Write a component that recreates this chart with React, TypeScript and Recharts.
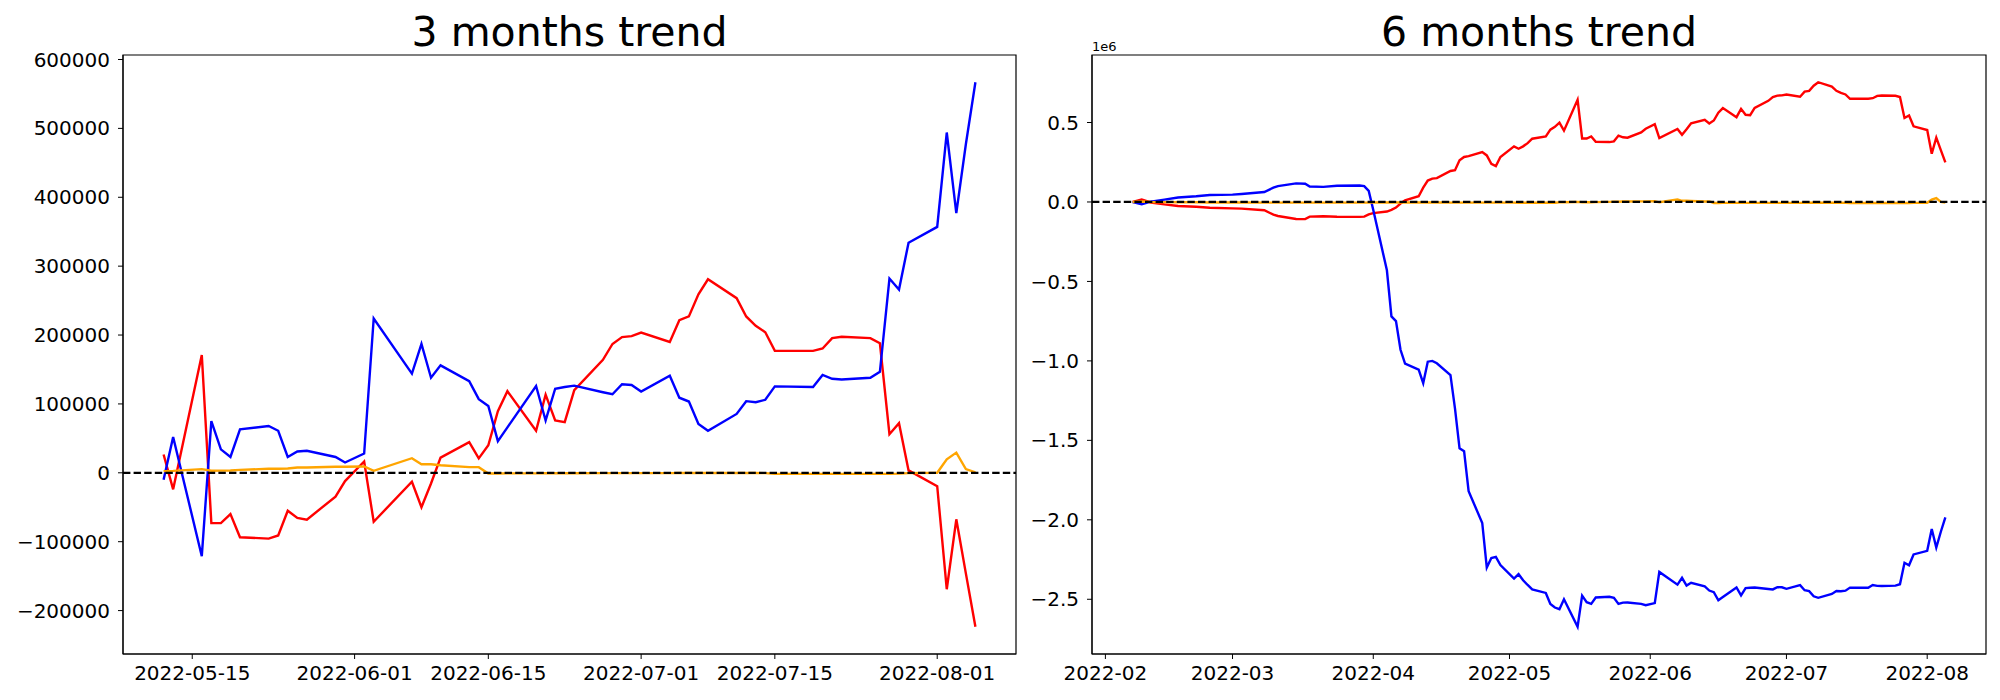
import React from 'react';
import { LineChart, Line, XAxis, YAxis, ReferenceLine, ReferenceArea } from 'recharts';

const FONT = 'DejaVu Sans';

// ---- 3 months trend (cumulative since 2022-05-11) ----
const threeDates = [
  '2022-05-12', '2022-05-13', '2022-05-16', '2022-05-17', '2022-05-18', '2022-05-19', '2022-05-20',
  '2022-05-23', '2022-05-24', '2022-05-25', '2022-05-26', '2022-05-27', '2022-05-30', '2022-05-31',
  '2022-06-02', '2022-06-03', '2022-06-07', '2022-06-08', '2022-06-09', '2022-06-10', '2022-06-13',
  '2022-06-14', '2022-06-15', '2022-06-16', '2022-06-17', '2022-06-20', '2022-06-21', '2022-06-22',
  '2022-06-23', '2022-06-24', '2022-06-27', '2022-06-28', '2022-06-29', '2022-06-30', '2022-07-01',
  '2022-07-04', '2022-07-05', '2022-07-06', '2022-07-07', '2022-07-08', '2022-07-11', '2022-07-12',
  '2022-07-13', '2022-07-14', '2022-07-15', '2022-07-19', '2022-07-20', '2022-07-21', '2022-07-22',
  '2022-07-25', '2022-07-26', '2022-07-27', '2022-07-28', '2022-07-29', '2022-08-01', '2022-08-02',
  '2022-08-03', '2022-08-04', '2022-08-05',
];
const threeBlue = [
  -10000, 52000, -121000, 75000, 34000, 23000, 63000, 68000, 61000, 23000, 31000, 32000, 23000, 15000,
  28000, 224000, 144000, 187000, 138000, 156000, 133000, 107000, 97000, 46000, 66000, 126000, 76000,
  122000, 124500, 126500, 117000, 114000, 128500, 127500, 118000, 141000, 109000, 103500, 71000, 61000,
  85500, 104000, 102500, 106000, 125500, 124500, 142000, 136500, 135500, 138000, 146500, 282000, 266000,
  334000, 357000, 494000, 377000, 477000, 567000,
];
const threeRed = [
  26500, -24000, 171000, -73000, -73000, -60000, -93500, -95500, -91000, -55000, -65500, -68000, -34500,
  -12000, 16500, -71000, -13000, -50000, -15500, 22000, 44500, 21000, 40000, 89500, 118500, 61000, 113500,
  76000, 73500, 120000, 164000, 187000, 197000, 198500, 203500, 190000, 221500, 227000, 259000, 281000,
  253500, 227000, 213500, 204000, 177000, 177000, 180500, 195500, 197500, 195500, 188000, 56000, 72000,
  3500, -19500, -169000, -67500, -146000, -223500,
];
const threeOrange = [
  2500, 2800, 5300, 3000, 3200, 3400, 4300, 5800, 6000, 6300, 7700, 7800, 8700, 8800, 9200, 2900, 21200,
  12500, 12500, 11000, 8200, 8200, -1000, -1000, -800, -800, -700, -700, -600, -600, -500, -500, -500,
  -400, -400, -400, -300, -300, -300, -200, -200, -200, -300, -500, -1500, -1500, -1500, -1500, -1500,
  -1600, -1600, -1500, -1200, -500, 0, 19500, 29300, 5500, 500,
];
const threeXTicks = ['2022-05-15', '2022-06-01', '2022-06-15', '2022-07-01', '2022-07-15', '2022-08-01'];
const threeYTicks = [-200000, -100000, 0, 100000, 200000, 300000, 400000, 500000, 600000];

// ---- 6 months trend (values in 1e6) ----
const sixDates = [
  '2022-02-07', '2022-02-09', '2022-02-11', '2022-02-14', '2022-02-17', '2022-02-21', '2022-02-24',
  '2022-03-01', '2022-03-03', '2022-03-08', '2022-03-10', '2022-03-11', '2022-03-15', '2022-03-17',
  '2022-03-18', '2022-03-21', '2022-03-24', '2022-03-29', '2022-03-30', '2022-03-31', '2022-04-01',
  '2022-04-04', '2022-04-05', '2022-04-06', '2022-04-07', '2022-04-08', '2022-04-11', '2022-04-12',
  '2022-04-13', '2022-04-14', '2022-04-15', '2022-04-18', '2022-04-19', '2022-04-20', '2022-04-21',
  '2022-04-22', '2022-04-25', '2022-04-26', '2022-04-27', '2022-04-28', '2022-04-29', '2022-05-02',
  '2022-05-03', '2022-05-04', '2022-05-05', '2022-05-06', '2022-05-09', '2022-05-10', '2022-05-11',
  ...threeDates,
];
const sixBlue = [
  0, -0.015, 0.002, 0.015, 0.028, 0.036, 0.044, 0.046, 0.05, 0.063, 0.09, 0.1, 0.117, 0.115, 0.097,
  0.095, 0.102, 0.104, 0.1, 0.07, -0.05, -0.43, -0.72, -0.75, -0.93, -1.017, -1.055, -1.14, -1.005, -1.0,
  -1.015, -1.09, -1.3, -1.55, -1.568, -1.82, -2.02, -2.3, -2.24, -2.233, -2.285, -2.37, -2.342, -2.38,
  -2.41, -2.438, -2.46, -2.53, -2.552,
  -2.562, -2.5, -2.673, -2.477, -2.518, -2.529, -2.489, -2.484, -2.491, -2.529, -2.521, -2.52, -2.529,
  -2.537, -2.524, -2.328, -2.408, -2.365, -2.414, -2.396, -2.419, -2.445, -2.455, -2.506, -2.486, -2.426,
  -2.476, -2.43, -2.4275, -2.4255, -2.435, -2.438, -2.4235, -2.4245, -2.434, -2.411, -2.443, -2.4485,
  -2.481, -2.491, -2.4665, -2.448, -2.4495, -2.446, -2.4265, -2.4275, -2.41, -2.4155, -2.4165, -2.414,
  -2.4055, -2.27, -2.286, -2.218, -2.195, -2.058, -2.175, -2.075, -1.985,
];
const sixRed = [
  0, 0.015, -0.003, -0.015, -0.025, -0.03, -0.036, -0.04, -0.042, -0.052, -0.08, -0.088, -0.107, -0.108,
  -0.092, -0.09, -0.093, -0.094, -0.092, -0.078, -0.07, -0.06, -0.05, -0.035, -0.01, 0.01, 0.036, 0.09,
  0.135, 0.147, 0.15, 0.195, 0.2, 0.262, 0.283, 0.288, 0.314, 0.293, 0.24, 0.226, 0.283, 0.35, 0.335,
  0.35, 0.37, 0.398, 0.412, 0.455, 0.4725,
  0.499, 0.4485, 0.6435, 0.3995, 0.3995, 0.4125, 0.379, 0.377, 0.3815, 0.4175, 0.407, 0.4045, 0.438,
  0.4605, 0.489, 0.4015, 0.4595, 0.4225, 0.457, 0.4945, 0.517, 0.4935, 0.5125, 0.562, 0.591, 0.5335,
  0.586, 0.5485, 0.546, 0.5925, 0.6365, 0.6595, 0.6695, 0.671, 0.676, 0.6625, 0.694, 0.6995, 0.7315,
  0.7535, 0.726, 0.6995, 0.686, 0.6765, 0.6495, 0.6495, 0.653, 0.668, 0.67, 0.668, 0.6605, 0.5285,
  0.5445, 0.476, 0.453, 0.3035, 0.405, 0.3265, 0.249,
];
const sixOrange = [
  0, 0.003, 0, -0.001, -0.002, -0.002, -0.003, -0.003, -0.003, -0.004, -0.004, -0.004, -0.004, -0.004,
  -0.004, -0.004, -0.004, -0.004, -0.004, -0.004, -0.003, -0.003, -0.003, -0.003, -0.003, -0.003, -0.003,
  -0.003, -0.003, -0.003, -0.003, -0.004, -0.004, -0.004, -0.004, -0.004, -0.004, -0.004, -0.004, -0.004,
  -0.004, -0.004, -0.005, -0.005, -0.005, -0.005, -0.005, -0.005, -0.005,
  -0.0025, -0.0022, 0.0003, -0.002, -0.0018, -0.0016, -0.0007, 0.0008, 0.001, 0.0013, 0.0027, 0.0028,
  0.0037, 0.0038, 0.0042, -0.0021, 0.0162, 0.0075, 0.0075, 0.006, 0.0032, 0.0032, -0.006, -0.006, -0.0058,
  -0.0058, -0.0057, -0.0057, -0.0056, -0.0056, -0.0055, -0.0055, -0.0055, -0.0054, -0.0054, -0.0054,
  -0.0053, -0.0053, -0.0053, -0.0052, -0.0052, -0.0052, -0.0053, -0.0055, -0.0065, -0.0065, -0.0065,
  -0.0065, -0.0065, -0.0066, -0.0066, -0.0065, -0.0062, -0.0055, -0.005, 0.0145, 0.0243, 0.0005, -0.0045,
];
const sixXTicks = ['2022-02-01', '2022-03-01', '2022-04-01', '2022-05-01', '2022-06-01', '2022-07-01', '2022-08-01'];
const sixYTicks = [-2.5, -2, -1.5, -1, -0.5, 0, 0.5];

const ts = (s: string) => Date.parse(s + 'T00:00:00Z');
const minus = (s: string) => s.replace('-', '\u2212');

// matplotlib style 5% margins
function padded(lo: number, hi: number): [number, number] {
  const p = (hi - lo) * 0.05;
  return [lo - p, hi + p];
}

type PanelProps = {
  dates: string[];
  blue: number[];
  red: number[];
  orange: number[];
  xTicks: string[];
  xFmt: (v: number) => string;
  yTicks: number[];
  yFmt: (v: number) => string;
  width: number;
  yWidth: number;
  right: number;
};

function Panel({ dates, blue, red, orange, xTicks, xFmt, yTicks, yFmt, width, yWidth, right }: PanelProps) {
  const rows = dates.map((d, i) => ({ t: ts(d), blue: blue[i], red: red[i], orange: orange[i] }));
  const [x0, x1] = padded(rows[0].t, rows[rows.length - 1].t);
  const all = [...blue, ...red, ...orange];
  const [y0, y1] = padded(Math.min(...all), Math.max(...all));
  const tickStyle = { fontSize: 20, fill: '#000', fontFamily: FONT };
  return (
    <LineChart width={width} height={700} data={rows} margin={{ top: 55, right, bottom: 0, left: 0 }}>
      <XAxis
        dataKey="t"
        type="number"
        domain={[x0, x1]}
        allowDataOverflow
        ticks={xTicks.map(ts)}
        tickFormatter={xFmt}
        height={46}
        stroke="#000"
        tickSize={5}
        tickMargin={7}
        tick={tickStyle}
      />
      <YAxis
        type="number"
        domain={[y0, y1]}
        allowDataOverflow
        ticks={yTicks}
        tickFormatter={yFmt}
        width={yWidth}
        stroke="#000"
        tickSize={5}
        tickMargin={8}
        tick={tickStyle}
      />
      <ReferenceArea x1={x0} x2={x1} y1={y0} y2={y1} fill="none" stroke="#000" strokeWidth={1.2} fillOpacity={0} />
      <Line dataKey="red" stroke="#ff0000" strokeWidth={2.4} dot={false} isAnimationActive={false} />
      <Line dataKey="blue" stroke="#0000ff" strokeWidth={2.4} dot={false} isAnimationActive={false} />
      <Line dataKey="orange" stroke="#ffa500" strokeWidth={2.4} dot={false} isAnimationActive={false} />
      <ReferenceLine y={0} stroke="#000" strokeWidth={2.2} strokeDasharray="7.4 3.2" />
    </LineChart>
  );
}

export default function App() {
  return (
    <div style={{ position: 'absolute', left: 0, top: 0, width: 2000, height: 700, background: '#fff', fontFamily: FONT }}>
      <div style={{ position: 'absolute', left: 0, top: 0 }}>
        <Panel
          dates={threeDates}
          blue={threeBlue}
          red={threeRed}
          orange={threeOrange}
          xTicks={threeXTicks}
          xFmt={(v) => new Date(v).toISOString().slice(0, 10)}
          yTicks={threeYTicks}
          yFmt={(v) => minus(String(v))}
          width={1020}
          yWidth={123}
          right={4}
        />
      </div>
      <div style={{ position: 'absolute', left: 1020, top: 0 }}>
        <Panel
          dates={sixDates}
          blue={sixBlue}
          red={sixRed}
          orange={sixOrange}
          xTicks={sixXTicks}
          xFmt={(v) => new Date(v).toISOString().slice(0, 7)}
          yTicks={sixYTicks}
          yFmt={(v) => minus(v.toFixed(1))}
          width={980}
          yWidth={72}
          right={14}
        />
      </div>
      <svg width={2000} height={700} style={{ position: 'absolute', left: 0, top: 0, pointerEvents: 'none' }}>
        <text x={569.5} y={46} textAnchor="middle" fontSize={41} fontFamily={FONT} fill="#000">3 months trend</text>
        <text x={1539} y={46} textAnchor="middle" fontSize={41} fontFamily={FONT} fill="#000">6 months trend</text>
        <text x={1092} y={51} fontSize={13} fontFamily={FONT} fill="#000">1e6</text>
      </svg>
    </div>
  );
}
